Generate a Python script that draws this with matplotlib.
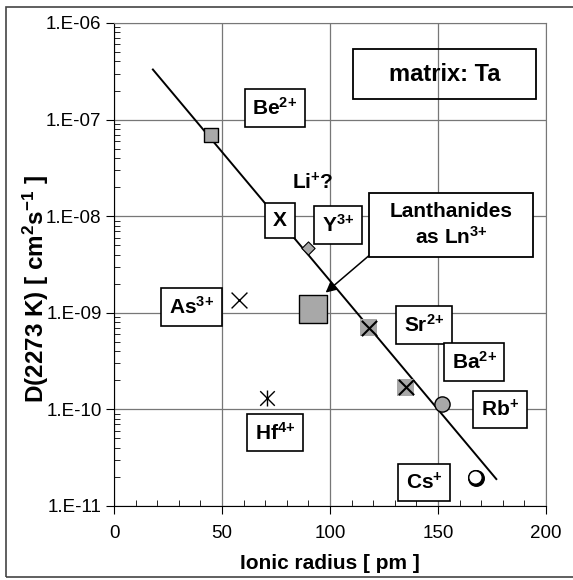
import numpy as np
import matplotlib
matplotlib.use("Agg")
import matplotlib.pyplot as plt
from matplotlib.patches import Rectangle

plt.rcParams['font.family'] = ['Liberation Sans', 'DejaVu Sans']
plt.rcParams['mathtext.fontset'] = 'custom'
plt.rcParams['mathtext.rm'] = 'Liberation Sans:bold'
plt.rcParams['mathtext.it'] = 'Liberation Sans:bold'
plt.rcParams['mathtext.bf'] = 'Liberation Sans:bold'
plt.rcParams['mathtext.default'] = 'rm'

# data (ionic radius in pm, D in cm2/s)
be_x, be_y = [45], [6.9e-8]
y_x, y_y = [90], [4.7e-9]
ln_x, ln_y = [92], [1.1e-9]
srba_x, srba_y = [118, 135], [7.0e-10, 1.7e-10]
rb_x, rb_y = [152], [1.15e-10]
cs_x, cs_y = [167], [2.0e-11]
as_x, as_y = [58], [1.35e-9]
hf_x, hf_y = [71], [1.3e-10]
fit_x = [18, 177]
fit_y = [3.3e-7, 1.9e-11]

xticks = [0, 50, 100, 150, 200]
yticks = [1e-11, 1e-10, 1e-9, 1e-8, 1e-7, 1e-6]
ylabels = ['1.E-11', '1.E-10', '1.E-09', '1.E-08', '1.E-07', '1.E-06']

fig = plt.figure(figsize=(5.73, 5.8), dpi=100)
ax = fig.add_axes([114/573, 74/580, 432/573, 483/580])
ax.set_yscale('log')
ax.set_xlim(0, 200)
ax.set_ylim(1e-11, 1e-6)

ax.set_xticks(xticks)
ax.set_yticks(yticks)
ax.set_yticklabels(ylabels)
ax.set_xticks(np.arange(0, 201, 10), minor=True)
ax.tick_params(which='major', direction='out', length=6, labelsize=13.5, pad=3)
ax.tick_params(axis='x', which='major', pad=8)
ax.tick_params(which='minor', direction='in', length=4)
ax.grid(True, which='major', color='#777777', lw=0.9)
ax.set_axisbelow(True)
for s in ['top', 'right']:
    ax.spines[s].set_color('#777777')

ax.plot(fit_x, fit_y, color='black', lw=1.4, zorder=3)

grey = '#a8a8a8'
ax.scatter(be_x, be_y, marker='s', s=110, c=grey, edgecolors='black', linewidths=1, zorder=4)
ax.scatter(y_x, y_y, marker='D', s=45, c=grey, edgecolors='black', linewidths=0.8, zorder=4)
ax.scatter(ln_x, ln_y, marker='s', s=420, c=grey, edgecolors='black', linewidths=1, zorder=4)
ax.scatter(srba_x, srba_y, marker='s', s=150, c=grey, edgecolors='none', zorder=4)
ax.scatter(srba_x, srba_y, marker='x', s=120, c='black', linewidths=1.5, zorder=5)
ax.scatter(rb_x, rb_y, marker='o', s=120, c=grey, edgecolors='black', linewidths=1, zorder=4)
ax.scatter([v + 0.5 for v in cs_x], [v * 0.98 for v in cs_y], marker='o', s=125, c='black', zorder=4)
ax.scatter(cs_x, cs_y, marker='o', s=95, c='white', edgecolors='black', linewidths=1.1, zorder=5)
ax.scatter(as_x, as_y, marker='x', s=130, c='black', linewidths=1, zorder=4)
ax.scatter(hf_x, hf_y, marker='x', s=110, c='black', linewidths=1, zorder=4)
ax.scatter(hf_x, hf_y, marker='|', s=130, c='black', linewidths=1, zorder=4)

box = dict(boxstyle='square,pad=0.38', fc='white', ec='black', lw=1.2)
lab = dict(ha='center', va='center', fontsize=15, fontweight='bold', bbox=box, zorder=6)
ax.text(74.5, 1.32e-7, 'Be$^{2{+}}$', **lab)
ax.text(76.9, 9.1e-9, 'X', **lab)
ax.text(103.7, 8.1e-9, 'Y$^{3{+}}$', **lab)
ax.text(36, 1.15e-9, 'As$^{3{+}}$', **lab)
ax.text(74.5, 5.75e-11, 'Hf$^{4{+}}$', **lab)
ax.text(143.5, 7.5e-10, 'Sr$^{2{+}}$', **lab)
ax.text(166.7, 3.1e-10, 'Ba$^{2{+}}$', **lab)
ax.text(178.7, 1.0e-10, 'Rb$^{+}$', **lab)
ax.text(143.5, 1.74e-11, 'Cs$^{+}$', **lab)
ax.text(92, 2.2e-8, 'Li$^{+}$?', ha='center', va='center', fontsize=15,
        fontweight='bold', zorder=6)
ax.text(153, 2.95e-7, 'matrix: Ta', ha='center', va='center', fontsize=17,
        fontweight='bold', zorder=6)
fig.patches.append(Rectangle((353/573, 1 - 99/580), 183/573, 50/580, transform=fig.transFigure,
                             fill=False, ec='black', lw=1.3, zorder=6))
fig.patches.append(Rectangle((369/573, 1 - 257/580), 164/573, 64/580, transform=fig.transFigure,
                             fc='white', ec='black', lw=1.3, zorder=6))
fig.text(451/573, 1 - 225/580, 'Lanthanides\nas Ln$^{3{+}}$', ha='center', va='center',
         fontsize=15, fontweight='bold', linespacing=1.25, zorder=7)
ax.annotate('', xy=(97, 1.55e-9), xytext=(118, 3.9e-9),
            arrowprops=dict(arrowstyle='-|>', color='black', lw=1.1,
                            mutation_scale=16, shrinkA=0), zorder=5)

ax.set_xlabel('Ionic radius [ pm ]', fontsize=15, fontweight='bold', labelpad=8)
ax.set_ylabel('D(2273 K) [ cm$^{2}$s$^{-1}$ ]', fontsize=17.5, fontweight='bold')
ax.yaxis.set_label_coords(-0.145, 0.45)

fig.patches.append(Rectangle((6/573, 3/580), 580/573, 570/580, transform=fig.transFigure,
                             fill=False, ec='#444444', lw=1.2))

fig.savefig('out.png', dpi=100)
